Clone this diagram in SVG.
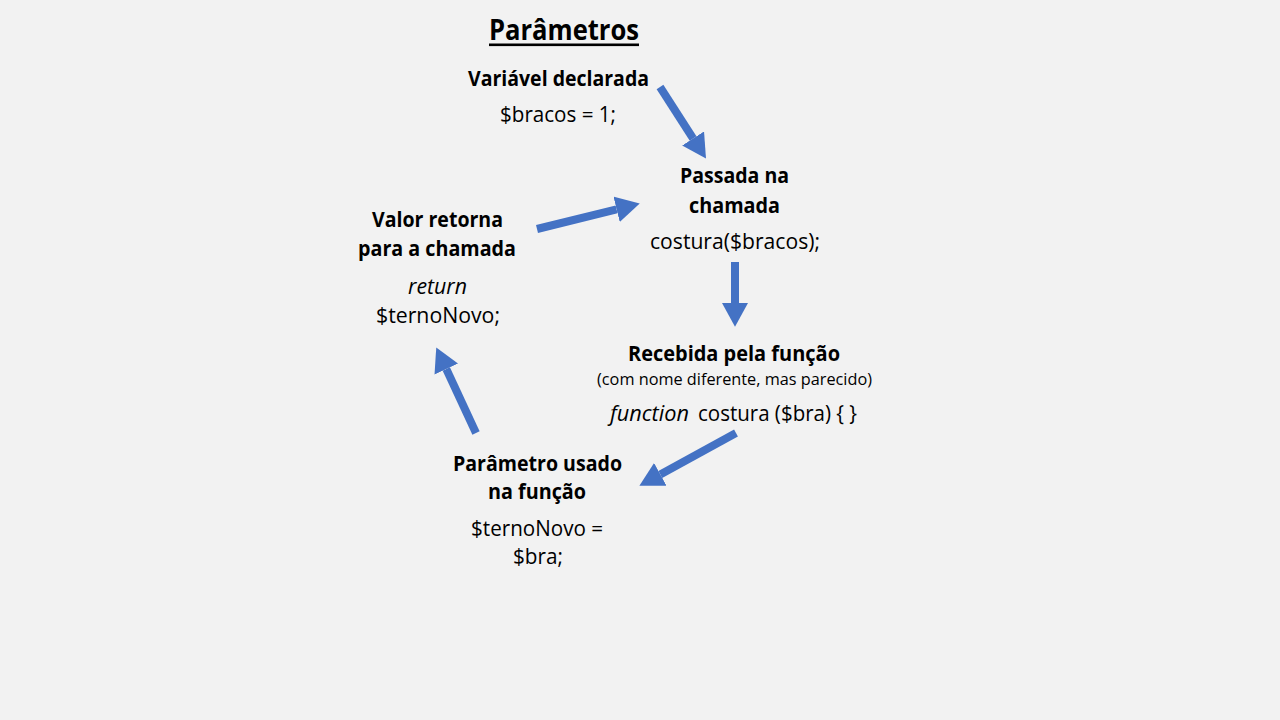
<svg xmlns="http://www.w3.org/2000/svg" width="1280" height="720" viewBox="0 0 1280 720">
<style>
.b{font-family:"Open Sans","Noto Sans","Liberation Sans",sans-serif;font-weight:bold;font-size:22px;fill:#000}
.r{font-family:"Open Sans","Noto Sans","Liberation Sans",sans-serif;font-size:22px;fill:#000}
.i{font-style:italic}
.s{font-size:16.5px}
.t{font-size:29px}
.conn line{stroke:#4472C4;stroke-width:8;fill:none;marker-end:url(#ah)}
</style>
<defs>
<marker id="ah" markerUnits="userSpaceOnUse" markerWidth="24" markerHeight="26" refX="0" refY="12" orient="auto" viewBox="0 0 22 24">
<path d="M0,0 L22,12 L0,24 z" fill="#4472C4"/>
</marker>
</defs>
<rect width="1280" height="720" fill="#f2f2f2"/>
<g id="title">
<text class="b t" x="489" y="39.5" textLength="150" lengthAdjust="spacingAndGlyphs">Parâmetros</text>
<rect x="489" y="43.5" width="150" height="2.6" fill="#000"/>
</g>
<g id="n1">
<text class="b" x="468" y="86" textLength="181" lengthAdjust="spacingAndGlyphs">Variável declarada</text>
<text class="r" x="500" y="121.5" textLength="116" lengthAdjust="spacingAndGlyphs">$bracos = 1;</text>
</g>
<g id="n2">
<text class="b" x="680" y="183" textLength="109" lengthAdjust="spacingAndGlyphs">Passada na</text>
<text class="b" x="689" y="213" textLength="91" lengthAdjust="spacingAndGlyphs">chamada</text>
<text class="r" x="650" y="249" textLength="170" lengthAdjust="spacingAndGlyphs">costura($bracos);</text>
</g>
<g id="n3">
<text class="b" x="628" y="361" textLength="212" lengthAdjust="spacingAndGlyphs">Recebida pela função</text>
<text class="r s" x="597" y="385" textLength="275" lengthAdjust="spacingAndGlyphs">(com nome diferente, mas parecido)</text>
<text class="r i" x="610" y="420.5" textLength="79" lengthAdjust="spacingAndGlyphs">function</text>
<text class="r" x="698" y="420.5" textLength="159" lengthAdjust="spacingAndGlyphs">costura ($bra) { }</text>
</g>
<g id="n4">
<text class="b" x="453" y="471" textLength="169" lengthAdjust="spacingAndGlyphs">Parâmetro usado</text>
<text class="b" x="488" y="499" textLength="98" lengthAdjust="spacingAndGlyphs">na função</text>
<text class="r" x="471" y="536" textLength="132" lengthAdjust="spacingAndGlyphs">$ternoNovo =</text>
<text class="r" x="513" y="564" textLength="50" lengthAdjust="spacingAndGlyphs">$bra;</text>
</g>
<g id="n5">
<text class="b" x="372" y="227" textLength="131" lengthAdjust="spacingAndGlyphs">Valor retorna</text>
<text class="b" x="358" y="256" textLength="158" lengthAdjust="spacingAndGlyphs">para a chamada</text>
<text class="r i" x="408" y="294" textLength="59" lengthAdjust="spacingAndGlyphs">return</text>
<text class="r" x="376" y="322.5" textLength="124" lengthAdjust="spacingAndGlyphs">$ternoNovo;</text>
</g>
<g id="connectors" class="conn">
<line x1="660" y1="87" x2="693.1" y2="138.5"/>
<line x1="537" y1="229" x2="616.6" y2="209.3"/>
<line x1="735" y1="262" x2="735" y2="303"/>
<line x1="736" y1="433" x2="660.3" y2="474.4"/>
<line x1="476" y1="433" x2="446.3" y2="369"/>
</g>
</svg>
